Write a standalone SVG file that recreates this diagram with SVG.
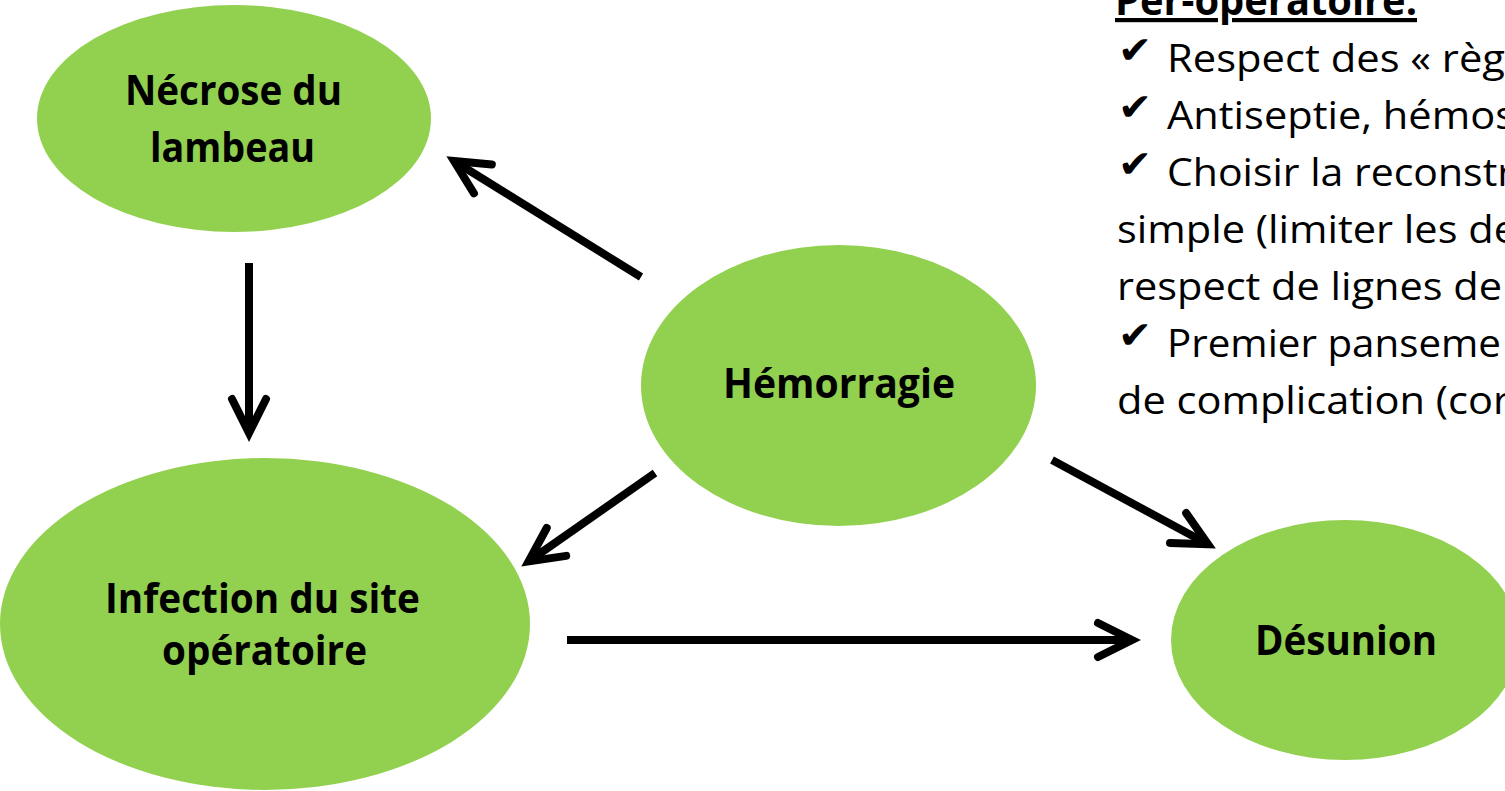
<svg xmlns="http://www.w3.org/2000/svg" width="1505" height="791" viewBox="0 0 1505 791">
<defs>
<style>
.node{fill:#92D050;stroke:none}
.lbl{font-family:"Open Sans","Liberation Sans",sans-serif;font-weight:bold;font-size:42px;fill:#000}
.body{font-family:"Open Sans","Liberation Sans",sans-serif;font-size:39px;fill:#000}
.chk{font-family:"DejaVu Sans",sans-serif;font-size:38px;fill:#000}
.arrow{fill:none;stroke:#000;stroke-width:8;marker-end:url(#head)}
</style>
<marker id="head" markerUnits="userSpaceOnUse" orient="auto" refX="0" refY="0" markerWidth="60" markerHeight="60" viewBox="-45 -30 60 60" overflow="visible">
<path d="M -34 -17 L 0 0 L -34 17" fill="none" stroke="#000" stroke-width="8" stroke-linecap="round" stroke-linejoin="miter"/>
</marker>
</defs>
<rect width="1505" height="791" fill="#fff"/>

<g id="connectors">
<line class="arrow" x1="641" y1="277" x2="454" y2="161"/>
<line class="arrow" x1="655" y1="473" x2="528.6" y2="561.4"/>
<line class="arrow" x1="1052" y1="460" x2="1208" y2="544.2"/>
<line class="arrow" x1="249" y1="263" x2="249" y2="433"/>
<line class="arrow" x1="567" y1="640" x2="1132" y2="640"/>
</g>

<g id="necrose">
<ellipse class="node" cx="234" cy="118.5" rx="197" ry="113.5"/>
<text class="lbl" x="125" y="105" textLength="217" lengthAdjust="spacingAndGlyphs">Nécrose du</text>
<text class="lbl" x="150" y="162" textLength="165" lengthAdjust="spacingAndGlyphs">lambeau</text>
</g>

<g id="hemorragie">
<ellipse class="node" cx="838.5" cy="385.5" rx="197.5" ry="140.5"/>
<text class="lbl" x="723" y="398" textLength="232" lengthAdjust="spacingAndGlyphs">Hémorragie</text>
</g>

<g id="infection">
<ellipse class="node" cx="265" cy="624" rx="265" ry="166"/>
<text class="lbl" x="105" y="613" textLength="315" lengthAdjust="spacingAndGlyphs">Infection du site</text>
<text class="lbl" x="162" y="665" textLength="205" lengthAdjust="spacingAndGlyphs">opératoire</text>
</g>

<g id="desunion">
<ellipse class="node" cx="1345" cy="640" rx="174" ry="120"/>
<text class="lbl" x="1255" y="655" textLength="182" lengthAdjust="spacingAndGlyphs">Désunion</text>
</g>

<g id="per-operatoire">
<text class="lbl" x="1115" y="15" textLength="302" lengthAdjust="spacingAndGlyphs" text-decoration="underline">Per-opératoire:</text>
<text class="chk" x="1118" y="63" textLength="34" lengthAdjust="spacingAndGlyphs">✔</text>
<text class="body" x="1167" y="72" textLength="338" lengthAdjust="spacingAndGlyphs">Respect des « règ</text>
<text class="chk" x="1118" y="120" textLength="34" lengthAdjust="spacingAndGlyphs">✔</text>
<text class="body" x="1167" y="129" textLength="348" lengthAdjust="spacingAndGlyphs">Antiseptie, hémos</text>
<text class="chk" x="1118" y="177" textLength="34" lengthAdjust="spacingAndGlyphs">✔</text>
<text class="body" x="1167" y="186" textLength="347" lengthAdjust="spacingAndGlyphs">Choisir la reconstr</text>
<text class="body" x="1117" y="243" textLength="400" lengthAdjust="spacingAndGlyphs">simple (limiter les de</text>
<text class="body" x="1117" y="300" textLength="385" lengthAdjust="spacingAndGlyphs">respect de lignes de</text>
<text class="chk" x="1118" y="348" textLength="34" lengthAdjust="spacingAndGlyphs">✔</text>
<text class="body" x="1167" y="357" textLength="334" lengthAdjust="spacingAndGlyphs">Premier panseme</text>
<text class="body" x="1117" y="414" textLength="393" lengthAdjust="spacingAndGlyphs">de complication (cor</text>
</g>
</svg>
